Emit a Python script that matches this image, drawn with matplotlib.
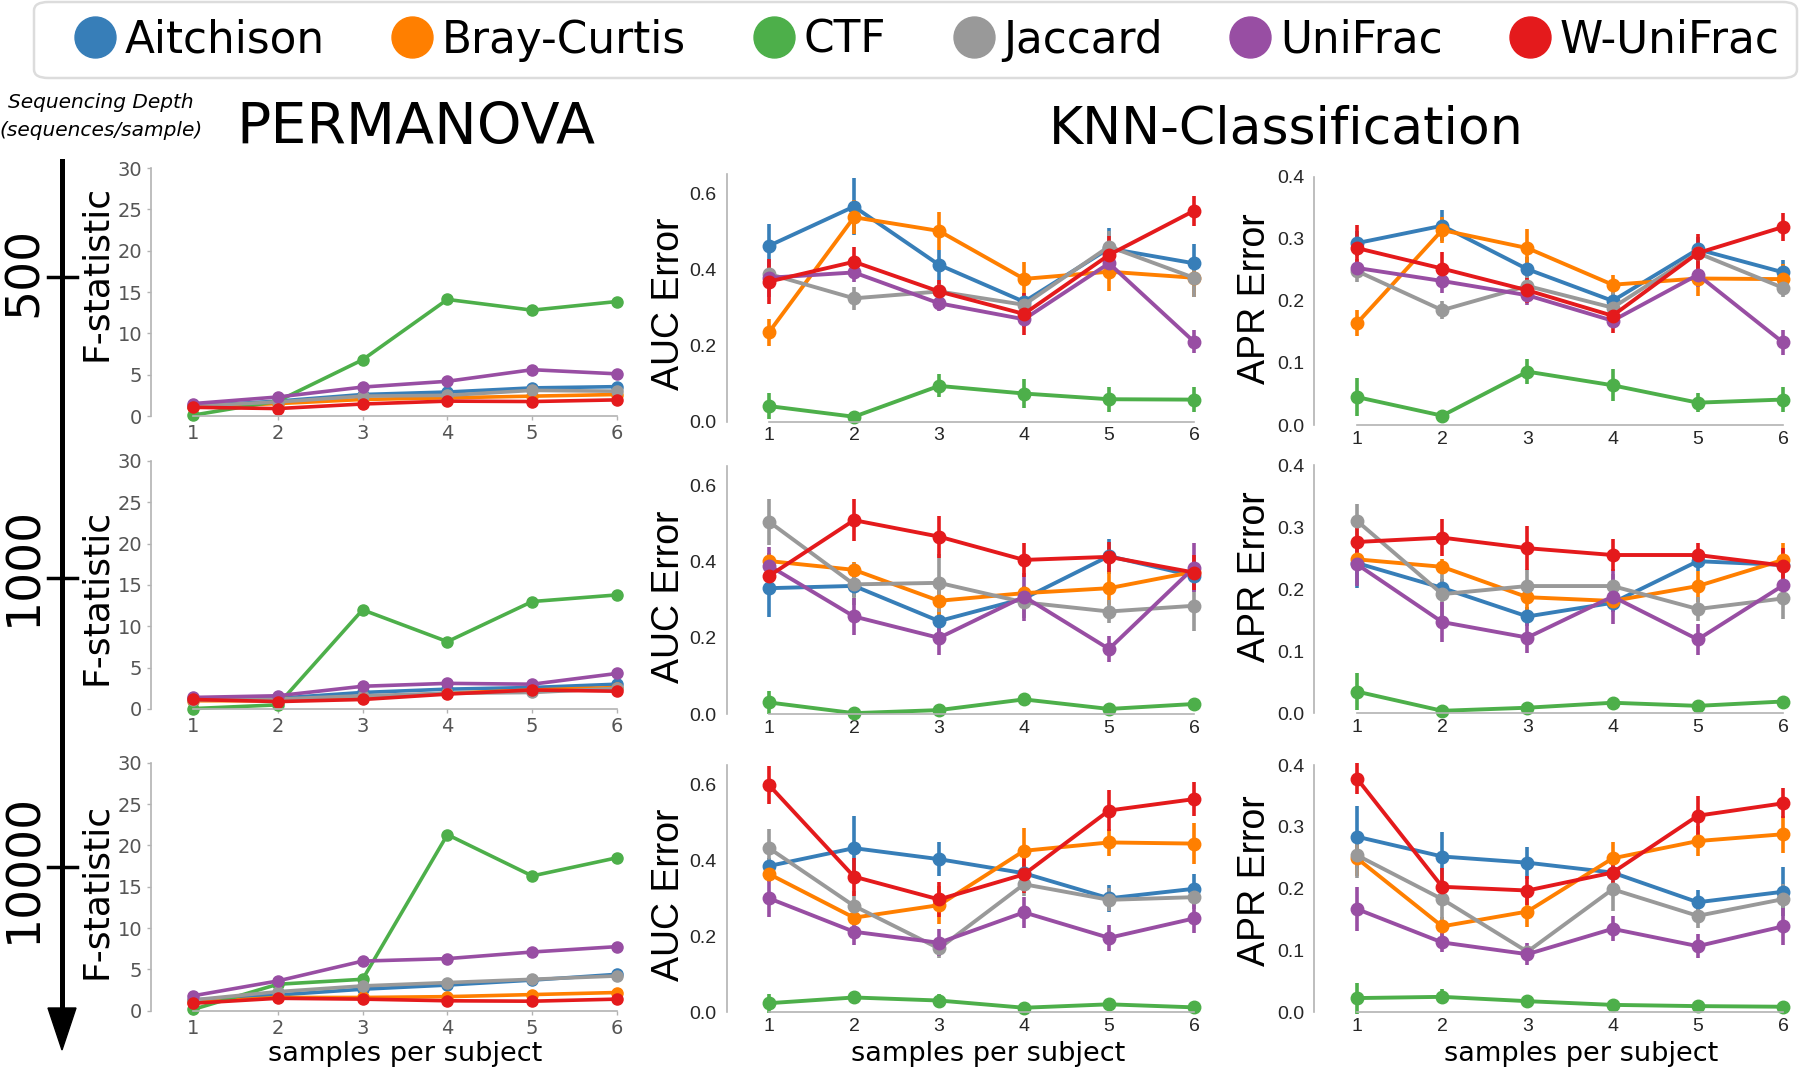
import numpy as np
import matplotlib.pyplot as plt
from matplotlib.lines import Line2D
from matplotlib.patches import FancyBboxPatch, Polygon

W, H = 1800, 1068

methods = ["Aitchison", "Bray-Curtis", "CTF", "Jaccard", "UniFrac", "W-UniFrac"]
colors = ["#377eb8", "#ff7f00", "#4daf4a", "#999999", "#984ea3", "#e41a1c"]
samples = [1, 2, 3, 4, 5, 6]
depths = ["500", "1000", "10000"]

# PERMANOVA F-statistic (rows follow `methods`)
perm_500 = [[1.2, 1.8, 2.6, 2.9, 3.4, 3.55],
            [1.1, 1.5, 2.0, 2.2, 2.4, 2.6],
            [0.1, 1.8, 6.8, 14.1, 12.8, 13.85],
            [1.2, 1.7, 2.4, 2.5, 3.1, 3.0],
            [1.5, 2.3, 3.5, 4.2, 5.6, 5.1],
            [1.05, 0.9, 1.45, 1.8, 1.75, 1.95]]
perm_1000 = [[1.2, 1.3, 2.0, 2.4, 2.6, 3.0],
             [1.0, 1.0, 1.4, 1.9, 2.3, 2.6],
             [0.05, 0.5, 12.0, 8.15, 13.0, 13.8],
             [1.1, 1.2, 1.6, 1.9, 2.0, 2.5],
             [1.4, 1.6, 2.75, 3.1, 3.0, 4.3],
             [1.15, 0.9, 1.15, 1.8, 2.3, 2.15]]
perm_10000 = [[1.3, 1.9, 2.6, 3.1, 3.7, 4.4],
              [1.0, 1.6, 1.6, 1.7, 1.95, 2.2],
              [0.15, 3.2, 3.8, 21.3, 16.3, 18.5],
              [1.3, 2.3, 3.0, 3.4, 3.8, 4.2],
              [1.8, 3.6, 6.0, 6.3, 7.1, 7.75],
              [0.9, 1.5, 1.4, 1.2, 1.15, 1.4]]

# KNN AUC error (mean and error bar half-width)
auc_500 = [[0.462, 0.565, 0.412, 0.315, 0.455, 0.416],
           [0.235, 0.537, 0.501, 0.375, 0.394, 0.378],
           [0.041, 0.013, 0.094, 0.074, 0.059, 0.058],
           [0.388, 0.324, 0.342, 0.307, 0.46, 0.378],
           [0.378, 0.392, 0.311, 0.269, 0.416, 0.21],
           [0.368, 0.42, 0.342, 0.283, 0.438, 0.554]]
auc_500_err = [[0.057, 0.075, 0.04, 0.02, 0.055, 0.05],
               [0.035, 0.045, 0.05, 0.045, 0.05, 0.05],
               [0.035, 0.006, 0.03, 0.038, 0.033, 0.032],
               [0.02, 0.03, 0.03, 0.03, 0.04, 0.05],
               [0.05, 0.025, 0.02, 0.02, 0.04, 0.03],
               [0.06, 0.04, 0.03, 0.055, 0.05, 0.04]]
auc_1000 = [[0.33, 0.336, 0.244, 0.303, 0.414, 0.362],
            [0.401, 0.378, 0.297, 0.317, 0.33, 0.373],
            [0.031, 0.003, 0.011, 0.039, 0.014, 0.027],
            [0.504, 0.34, 0.344, 0.293, 0.269, 0.284],
            [0.389, 0.256, 0.2, 0.308, 0.171, 0.384],
            [0.362, 0.508, 0.465, 0.404, 0.412, 0.371]]
auc_1000_err = [[0.076, 0.03, 0.03, 0.03, 0.046, 0.04],
                [0.02, 0.02, 0.04, 0.02, 0.045, 0.02],
                [0.03, 0.008, 0.01, 0.01, 0.01, 0.01],
                [0.06, 0.055, 0.075, 0.04, 0.03, 0.065],
                [0.05, 0.048, 0.046, 0.063, 0.035, 0.065],
                [0.037, 0.055, 0.055, 0.045, 0.04, 0.046]]
auc_10000 = [[0.385, 0.432, 0.403, 0.366, 0.3, 0.325],
             [0.364, 0.249, 0.282, 0.425, 0.447, 0.444],
             [0.024, 0.039, 0.031, 0.012, 0.021, 0.013],
             [0.432, 0.28, 0.168, 0.337, 0.296, 0.303],
             [0.3, 0.212, 0.183, 0.263, 0.196, 0.247],
             [0.598, 0.357, 0.297, 0.363, 0.531, 0.561]]
auc_10000_err = [[0.02, 0.085, 0.045, 0.02, 0.035, 0.04],
                 [0.02, 0.02, 0.05, 0.06, 0.035, 0.055],
                 [0.025, 0.018, 0.018, 0.008, 0.012, 0.008],
                 [0.05, 0.04, 0.025, 0.03, 0.03, 0.03],
                 [0.048, 0.035, 0.035, 0.04, 0.035, 0.038],
                 [0.05, 0.05, 0.045, 0.05, 0.055, 0.045]]

# KNN APR error
apr_500 = [[0.293, 0.321, 0.251, 0.20, 0.283, 0.246],
           [0.164, 0.314, 0.285, 0.226, 0.236, 0.235],
           [0.045, 0.015, 0.086, 0.064, 0.036, 0.041],
           [0.248, 0.185, 0.224, 0.189, 0.277, 0.221],
           [0.253, 0.232, 0.209, 0.168, 0.242, 0.133],
           [0.285, 0.252, 0.217, 0.176, 0.277, 0.319]]
apr_500_err = [[0.02, 0.025, 0.02, 0.015, 0.02, 0.02],
               [0.021, 0.021, 0.03, 0.016, 0.028, 0.024],
               [0.03, 0.008, 0.02, 0.026, 0.015, 0.02],
               [0.017, 0.015, 0.02, 0.025, 0.015, 0.015],
               [0.015, 0.02, 0.015, 0.012, 0.02, 0.02],
               [0.037, 0.027, 0.02, 0.027, 0.03, 0.023]]
apr_1000 = [[0.242, 0.202, 0.156, 0.178, 0.245, 0.239],
            [0.248, 0.236, 0.187, 0.181, 0.205, 0.247],
            [0.035, 0.004, 0.009, 0.017, 0.012, 0.019],
            [0.31, 0.192, 0.205, 0.205, 0.168, 0.185],
            [0.24, 0.147, 0.122, 0.188, 0.119, 0.206],
            [0.276, 0.283, 0.266, 0.255, 0.255, 0.238]]
apr_1000_err = [[0.04, 0.015, 0.015, 0.015, 0.015, 0.015],
                [0.01, 0.012, 0.02, 0.015, 0.025, 0.027],
                [0.03, 0.004, 0.006, 0.006, 0.006, 0.006],
                [0.027, 0.04, 0.028, 0.02, 0.02, 0.033],
                [0.035, 0.032, 0.025, 0.044, 0.025, 0.025],
                [0.03, 0.03, 0.035, 0.026, 0.02, 0.028]]
apr_10000 = [[0.284, 0.252, 0.242, 0.226, 0.178, 0.195],
             [0.249, 0.139, 0.163, 0.249, 0.277, 0.288],
             [0.023, 0.025, 0.018, 0.012, 0.01, 0.009],
             [0.254, 0.183, 0.098, 0.199, 0.156, 0.183],
             [0.167, 0.113, 0.094, 0.135, 0.107, 0.139],
             [0.378, 0.203, 0.197, 0.226, 0.318, 0.338]]
apr_10000_err = [[0.05, 0.04, 0.026, 0.01, 0.02, 0.04],
                 [0.028, 0.015, 0.025, 0.026, 0.024, 0.03],
                 [0.025, 0.012, 0.007, 0.007, 0.005, 0.005],
                 [0.037, 0.04, 0.01, 0.035, 0.02, 0.025],
                 [0.035, 0.015, 0.018, 0.02, 0.019, 0.03],
                 [0.025, 0.03, 0.023, 0.032, 0.032, 0.024]]

perm_rows = [perm_500, perm_1000, perm_10000]
auc_rows = [(auc_500, auc_500_err), (auc_1000, auc_1000_err), (auc_10000, auc_10000_err)]
apr_rows = [(apr_500, apr_500_err), (apr_1000, apr_1000_err), (apr_10000, apr_10000_err)]

fig = plt.figure(figsize=(W / 100, H / 100), dpi=100)
px = fig.dpi_scale_trans  # inches == px / 100


def fx(x):
    return x / W


def fy(y):
    return 1 - y / H


def make_axes(x1, x6, ybot, ytop, ymax):
    # x1/x6: pixel of sample 1 and 6, ybot/ytop: pixels of 0 and ymax
    u = (x6 - x1) / 5
    ax = fig.add_axes([fx(x1 - 0.5 * u), fy(ybot), 5.8 * u / W, (ybot - ytop) / H])
    ax.set_xlim(0.5, 6.3)
    ax.set_ylim(0, ymax)
    ax.patch.set_visible(False)
    for s in ["top", "right"]:
        ax.spines[s].set_visible(False)
    for s in ["left", "bottom"]:
        ax.spines[s].set_color("#b3b3b3")
        ax.spines[s].set_linewidth(1.2)
    ax.spines["bottom"].set_bounds(1, 6)
    ax.set_xticks(samples)
    return ax


perm_pos = [(416, 168), (709, 461), (1010.7, 762.7)]
auc_pos = [(421.7, 174.2), (714.3, 465.9), (1012.3, 765.3)]
apr_pos = [(425, 176.7), (713.3, 465), (1012.3, 765)]

# PERMANOVA column
for r, data in enumerate(perm_rows):
    ybot, ytop = perm_pos[r]
    ax = make_axes(193, 617, ybot, ytop, 30)
    ax.spines["left"].set_bounds(0, 30)
    ax.set_yticks(range(0, 31, 5))
    ax.tick_params(length=3, width=1, color="#b3b3b3", labelsize=14,
                   labelcolor="#555555", pad=3)
    for vals, c in zip(data, colors):
        ax.plot(samples, vals, color=c, lw=2.6, marker="o", ms=8, clip_on=False)

# KNN columns
for col, (rows, pos, x1, x6, ymax, yt, ytl) in enumerate([
        (auc_rows, auc_pos, 769, 1194, 0.65, [0, 0.2, 0.4, 0.6], ["0.0", "0.2", "0.4", "0.6"]),
        (apr_rows, apr_pos, 1357, 1783, 0.4, [0, 0.1, 0.2, 0.3, 0.4], ["0.0", "0.1", "0.2", "0.3", "0.4"])]):
    for r, (data, err) in enumerate(rows):
        ybot, ytop = pos[r]
        ax = make_axes(x1, x6, ybot, ytop, ymax)
        if ymax == 0.4:
            ax.spines["left"].set_bounds(0, 0.4)
        ax.set_yticks(yt)
        ax.set_yticklabels(ytl)
        ax.tick_params(axis="y", length=0, labelsize=14, labelcolor="#262626", pad=7)
        ax.tick_params(axis="x", length=0, labelsize=14, labelcolor="#262626", pad=4)
        for lab in ax.get_xticklabels() + ax.get_yticklabels():
            lab.set_family("Liberation Sans")
        for vals, e, c in zip(data, err, colors):
            cont = ax.errorbar(samples, vals, yerr=e, color=c, lw=2.8, marker="o", ms=9,
                               elinewidth=2.6, capsize=0)
            for art in cont.get_children():
                art.set_clip_on(False)

# axis labels
for yc in [273, 597, 891]:
    fig.text(fx(96), fy(yc), "F-statistic", rotation=90, ha="center", va="center", fontsize=26)
for yc in [304, 597, 895]:
    fig.text(fx(669), fy(yc), "AUC Error", rotation=90, ha="center", va="center",
             fontsize=27, family="Liberation Sans")
for yc in [299, 577, 881]:
    fig.text(fx(1255), fy(yc), "APR Error", rotation=90, ha="center", va="center",
             fontsize=27, family="Liberation Sans")
for xc in [405, 988, 1581]:
    fig.text(fx(xc), fy(1061), "samples per subject", ha="center", va="baseline", fontsize=19.5)

# titles
fig.text(fx(416), fy(129), "PERMANOVA", ha="center", va="center", fontsize=41)
fig.text(fx(1286), fy(129), "KNN-Classification", ha="center", va="center", fontsize=37.5)
fig.text(fx(101), fy(103), "Sequencing Depth", ha="center", va="center", fontsize=14.5, style="italic")
fig.text(fx(101), fy(131), "(sequences/sample)", ha="center", va="center", fontsize=14.5, style="italic")

# sequencing depth arrow
fig.add_artist(Line2D([0.62, 0.62], [(H - 161) / 100, (H - 1015) / 100], color="k", lw=3.6,
                      transform=px))
fig.add_artist(Polygon([[0.48, (H - 1008) / 100], [0.76, (H - 1008) / 100], [0.62, (H - 1050) / 100]],
                       closed=True, color="k", transform=px))
for d, yt, yl in zip(depths, [277, 578, 867], [272, 566, 868]):
    fig.add_artist(Line2D([0.48, 0.77], [(H - yt) / 100] * 2, color="k", lw=2.5, transform=px))
    fig.text(fx(24), fy(yl), d, rotation=90, ha="center", va="center", fontsize=34)

# legend
fig.add_artist(FancyBboxPatch((fx(34), fy(78)), fx(1797 - 34), (78 - 2) / H,
                              boxstyle="round,pad=0,rounding_size=0.008",
                              transform=fig.transFigure, facecolor="white",
                              edgecolor="#dcdcdc", lw=1.8))
handles = [Line2D([], [], ls="", marker="o", ms=29.5, color=c) for c in colors]
fig.legend(handles, methods, loc="center", ncol=6, mode="expand", frameon=False,
           bbox_to_anchor=(fx(60), fy(78), fx(1793 - 60), 76 / H),
           fontsize=31.5, handlelength=1.0, handletextpad=0.18, borderpad=0.3,
           borderaxespad=0)

fig.savefig("out.png", dpi=100)
